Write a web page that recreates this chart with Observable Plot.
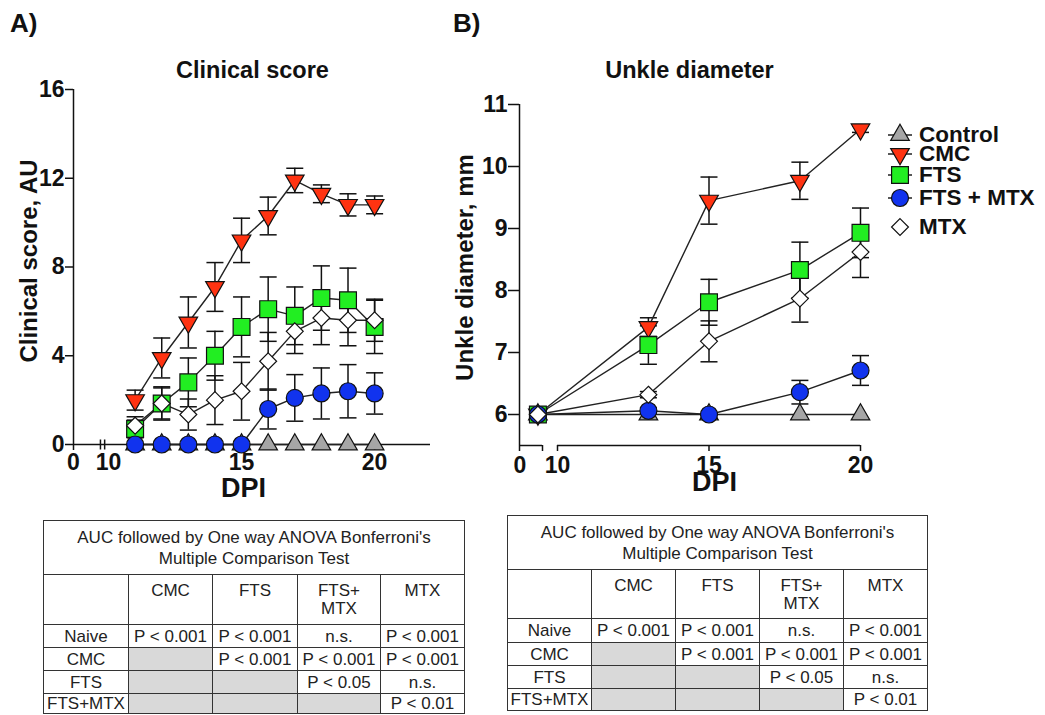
<!DOCTYPE html>
<html><head><meta charset="utf-8">
<script src="https://cdn.jsdelivr.net/npm/d3@7"></script>
<script src="https://cdn.jsdelivr.net/npm/@observablehq/plot@0.6"></script>
<style>
body{margin:0;background:#fff;font-family:"Liberation Sans",Arial,sans-serif;color:#111;}
#page{position:relative;width:1045px;height:715px;overflow:hidden;}
.abs{position:absolute;}
.panel{font-weight:bold;font-size:26px;line-height:26px;}
.leg{position:absolute;font-weight:bold;font-size:22.5px;line-height:18px;white-space:nowrap;transform:translateY(-50%);}
table.t{position:absolute;border-collapse:collapse;table-layout:fixed;font-size:17px;color:#222;}
table.t td{border:1.5px solid #333;text-align:center;padding:0;line-height:19px;overflow:hidden;white-space:nowrap;}
table.t td.hd{vertical-align:top;padding-top:7px;white-space:pre-line;line-height:18px;}
table.t td.ttl{white-space:pre-line;line-height:21px;vertical-align:middle;}
table.t td.gr{background:#d9d9d9;}
</style></head><body><div id="page"></div>
<script>
// ---------- series ----------
const seriesNames = ["Control", "CMC", "FTS", "FTS + MTX", "MTX"];
const seriesFill = ["#a6a6a6", "#ff3311", "#22ee22", "#1133ee", "#ffffff"];
const seriesSymbol = ["triangle", "triangle", "square", "circle", "diamond2"];
const seriesRotate = [0, 180, 0, 0, 0];
const seriesR = [6.9, 6.9, 9.5, 8.5, 7.6];

// ---------- panel A: clinical score ----------
const daysA = [11, 12, 13, 14, 15, 16, 17, 18, 19, 20];
const controlA = [0, 0, 0, 0, 0, 0, 0, 0, 0, 0];
const controlSemA = [0, 0, 0, 0, 0, 0, 0, 0, 0, 0];
const cmcA = [2.0, 3.9, 5.5, 7.1, 9.2, 10.3, 11.9, 11.3, 10.8, 10.8];
const cmcSemA = [0.45, 0.9, 1.15, 1.1, 1.0, 0.85, 0.55, 0.4, 0.5, 0.4];
const ftsA = [0.7, 1.85, 2.8, 4.0, 5.3, 6.1, 5.8, 6.6, 6.5, 5.3];
const ftsSemA = [0.4, 0.75, 1.1, 1.1, 1.35, 1.45, 1.3, 1.45, 1.45, 1.2];
const ftsMtxA = [0, 0, 0, 0, 0, 1.6, 2.1, 2.3, 2.4, 2.3];
const ftsMtxSemA = [0, 0, 0, 0, 0, 0.9, 1.05, 1.15, 1.2, 0.93];
const mtxA = [0.85, 1.85, 1.35, 2.0, 2.4, 3.75, 5.1, 5.7, 5.6, 5.6];
const mtxSemA = [0.4, 0.7, 0.7, 1.1, 1.3, 1.3, 1.0, 1.2, 1.15, 0.95];
const yTicksA = [0, 4, 8, 12, 16];
const xTicksA = [0, 10, 15, 20];
const xTickMarksA = [0, 15, 20];
const xBreaksA = [7.7, 8.9];

// ---------- panel B: ankle diameter ----------
const daysB = [0, 13, 15, 18, 20];
const controlB = [6, 6, 6, 6, 6];
const controlSemB = [0, 0, 0, 0, 0];
const cmcB = [6, 7.41, 9.45, 9.77, 10.6];
const cmcSemB = [0, 0.15, 0.38, 0.3, 0.05];
const ftsB = [6, 7.12, 7.81, 8.33, 8.93];
const ftsSemB = [0, 0.31, 0.37, 0.45, 0.4];
const ftsMtxB = [6, 6.06, 6.0, 6.36, 6.71];
const ftsMtxSemB = [0, 0.05, 0, 0.19, 0.24];
const mtxB = [6, 6.32, 7.18, 7.87, 8.62];
const mtxSemB = [0, 0.05, 0.33, 0.38, 0.41];
const yTicksB = [6, 7, 8, 9, 10, 11];
const xTicksB = [10, 15, 20];
const xFirstTickB = [0];
const xTickMarksB = [-0.8, 0.2, 10, 15, 20];

// ---------- tables ----------
const tableTitle = "AUC followed by One way ANOVA Bonferroni's\nMultiple Comparison Test";
const tableCols = ["CMC", "FTS", "FTS+\nMTX", "MTX"];
const tableRowLabels = ["Naive", "CMC", "FTS", "FTS+MTX"];
const tableA = [
  ["P < 0.001", "P < 0.001", "n.s.", "P < 0.001"],
  [null, "P < 0.001", "P < 0.001", "P < 0.001"],
  [null, null, "P < 0.05", "n.s."],
  [null, null, null, "P < 0.01"]
];
const tableB = [
  ["P < 0.001", "P < 0.001", "n.s.", "P < 0.001"],
  [null, "P < 0.001", "P < 0.001", "P < 0.001"],
  [null, null, "P < 0.05", "n.s."],
  [null, null, null, "P < 0.01"]
];

const page = document.getElementById("page");
const FONT = '"Liberation Sans", Arial, sans-serif';
const capSym = {draw(ctx, size) {const w = Math.sqrt(size / Math.PI); ctx.moveTo(-w, 0); ctx.lineTo(w, 0);}};
const vSym = {draw(ctx, size) {const h = Math.sqrt(size / Math.PI); ctx.moveTo(0, -h); ctx.lineTo(0, h);}};
const intFmt = d => String(d);

function chart(cfg) {
  const rows = [];
  cfg.values.forEach((vals, i) => vals.forEach((v, j) => rows.push({s: i, day: cfg.days[j], v, sem: cfg.sems[i][j]})));
  const err = rows.filter(d => d.sem > 0);
  const [y0, y1] = cfg.yDomain;
  const ax = "#111";
  const marks = [
    Plot.ruleX([cfg.xDomain[0]], {y1: y0, y2: y1, stroke: ax, strokeWidth: 1.5}),
    Plot.ruleY(cfg.xSegments, {x1: d => d[0], x2: d => d[1], y: y0, stroke: ax, strokeWidth: 1.5}),
    Plot.axisY({ticks: cfg.yTicks, tickFormat: intFmt, tickSize: cfg.yTickSize, tickPadding: cfg.yTickPadding, fontSize: 23, fontWeight: "bold", label: null, stroke: ax, strokeWidth: 1.5}),
    Plot.axisX({ticks: cfg.xTickMarks, tickSize: 6, tickFormat: () => "", label: null, stroke: ax, strokeWidth: 1.5}),
    Plot.axisX({ticks: cfg.xTicks, tickFormat: intFmt, tickSize: 0, tickPadding: cfg.xTickPadding, fontSize: 23, fontWeight: "bold", label: null}),
    Plot.text([cfg.title], {frameAnchor: "top", dx: cfg.titleD[0], dy: cfg.titleD[1], fontSize: 23.5, fontWeight: "bold"}),
    Plot.text(["DPI"], {frameAnchor: "bottom", dx: cfg.xLabelD[0], dy: cfg.xLabelD[1], fontSize: 27, fontWeight: "bold"}),
    Plot.text([cfg.yLabel], {frameAnchor: "left", textAnchor: "middle", rotate: -90, dx: cfg.yLabelD[0], dy: cfg.yLabelD[1], fontSize: 24, fontWeight: "bold"})
  ];
  if (cfg.firstTick) marks.push(Plot.axisX({ticks: cfg.firstTick, tickFormat: intFmt, tickSize: 0, tickPadding: cfg.xTickPadding, dx: cfg.firstTickDx, fontSize: 23, fontWeight: "bold", label: null}));
  if (cfg.breaks) marks.push(Plot.dot(cfg.breaks, {x: d => d, y: y0, symbol: vSym, r: 5, stroke: ax, strokeWidth: 1.5}));
  marks.push(
    Plot.ruleX(err, {x: "day", y1: d => d.v - d.sem, y2: d => d.v + d.sem, stroke: "#111", strokeWidth: 1.5}),
    Plot.dot(err, {x: "day", y: d => d.v + d.sem, symbol: capSym, r: 8.5, stroke: "#111", strokeWidth: 1.5}),
    Plot.dot(err, {x: "day", y: d => d.v - d.sem, symbol: capSym, r: 8.5, stroke: "#111", strokeWidth: 1.5}),
    Plot.line(rows, {x: "day", y: "v", z: "s", stroke: "#222", strokeWidth: 1.4})
  );
  seriesNames.forEach((name, i) => {
    marks.push(Plot.dot(rows.filter(d => d.s === i), {
      x: "day", y: "v", symbol: seriesSymbol[i], r: seriesR[i], rotate: seriesRotate[i],
      fill: seriesFill[i], stroke: "#111", strokeWidth: 1.2
    }));
  });
  const svg = Plot.plot({
    width: cfg.width, height: cfg.height,
    marginLeft: cfg.margin[0], marginRight: cfg.margin[1], marginTop: cfg.margin[2], marginBottom: cfg.margin[3],
    x: {type: "linear", domain: cfg.xDomain, range: cfg.xRange},
    y: {type: "linear", domain: cfg.yDomain},
    style: {fontFamily: FONT, background: "transparent", overflow: "visible", color: "#111"},
    marks
  });
  svg.style.position = "absolute";
  svg.style.left = cfg.left + "px";
  svg.style.top = "0px";
  page.appendChild(svg);
}

chart({
  left: 0, width: 470, height: 510, margin: [73, 40, 89, 66],
  days: daysA,
  values: [controlA, cmcA, ftsA, ftsMtxA, mtxA],
  sems: [controlSemA, cmcSemA, ftsSemA, ftsMtxSemA, mtxSemA],
  xDomain: [0, 10, 22.1], xRange: [73, 108, 430],
  yDomain: [0, 16], yTicks: yTicksA, yTickSize: 8, yTickPadding: 1,
  xTicks: xTicksA, xTickMarks: xTickMarksA, xTickPadding: 9,
  xSegments: [[0, 22.1]], breaks: xBreaksA, firstTick: null,
  title: "Clinical score", titleD: [0.5, -28],
  xLabelD: [-8.5, 52],
  yLabel: "Clinical score, AU", yLabelD: [-44, -6]
});

chart({
  left: 440, width: 605, height: 510, margin: [79, 185, 104, 65],
  days: daysB,
  values: [controlB, cmcB, ftsB, ftsMtxB, mtxB],
  sems: [controlSemB, cmcSemB, ftsSemB, ftsMtxSemB, mtxSemB],
  xDomain: [-0.8, 0.2, 10, 20], xRange: [79, 102, 117, 420],
  yDomain: [5.5, 11], yTicks: yTicksB, yTickSize: 11, yTickPadding: 1,
  xTicks: xTicksB, xTickMarks: xTickMarksB, xTickPadding: 11,
  firstTick: xFirstTickB, firstTickDx: -18,
  xSegments: [[-0.8, 0.2], [10, 20]], breaks: null,
  title: "Unkle diameter", titleD: [-0.5, -43],
  xLabelD: [24.5, 45],
  yLabel: "Unkle diameter, mm", yLabelD: [-54, -7.5]
});

// panel letters
[["A)", 10], ["B)", 453]].forEach(([t, x]) => {
  const d = document.createElement("div");
  d.className = "abs panel"; d.style.left = x + "px"; d.style.top = "10px"; d.textContent = t;
  page.appendChild(d);
});

// legend
const legendY = [135, 154, 175, 198, 227];
const d3Sym = {triangle: d3.symbolTriangle, square: d3.symbolSquare, circle: d3.symbolCircle, diamond2: d3.symbolDiamond2};
seriesNames.forEach((name, i) => {
  const r = seriesR[i];
  const path = d3.symbol(d3Sym[seriesSymbol[i]], Math.PI * r * r)();
  const line = i < 4 ? '<line x1="-12" x2="12" y1="0" y2="0" stroke="#111" stroke-width="1.4"/>' : "";
  const s = document.createElement("div");
  s.className = "abs";
  s.style.left = (900 - 14) + "px"; s.style.top = (legendY[i] - 14) + "px";
  s.innerHTML = `<svg width="28" height="28" viewBox="-14 -14 28 28">${line}<path d="${path}" transform="rotate(${seriesRotate[i]})" fill="${seriesFill[i]}" stroke="#111" stroke-width="1.2"/></svg>`;
  page.appendChild(s);
  const t = document.createElement("div");
  t.className = "leg"; t.style.left = "919px"; t.style.top = legendY[i] + "px"; t.textContent = name;
  page.appendChild(t);
});

// tables
function table(data, left, top, colW, rowH) {
  const tb = document.createElement("table");
  tb.className = "t"; tb.style.left = left + "px"; tb.style.top = top + "px";
  let html = "<colgroup>" + colW.map(w => `<col style="width:${w}px">`).join("") + "</colgroup>";
  html += `<tr style="height:${rowH[0]}px"><td class="ttl" colspan="5">${tableTitle}</td></tr>`;
  html += `<tr style="height:${rowH[1]}px"><td class="hd"></td>` + tableCols.map(c => `<td class="hd">${c}</td>`).join("") + "</tr>";
  data.forEach((row, i) => {
    html += `<tr style="height:${rowH[i + 2]}px"><td>${tableRowLabels[i]}</td>` +
      row.map(v => v === null ? '<td class="gr"></td>' : `<td>${v}</td>`).join("") + "</tr>";
  });
  tb.innerHTML = html;
  tb.style.width = colW.reduce((a, b) => a + b, 0) + "px";
  page.appendChild(tb);
}
table(tableA, 43, 520, [85, 84, 85, 83, 84], [54, 50, 23, 23, 23, 20]);
table(tableB, 507, 515, [84, 84, 84, 84, 84], [54, 49, 24, 23, 23, 22]);
</script></body></html>
